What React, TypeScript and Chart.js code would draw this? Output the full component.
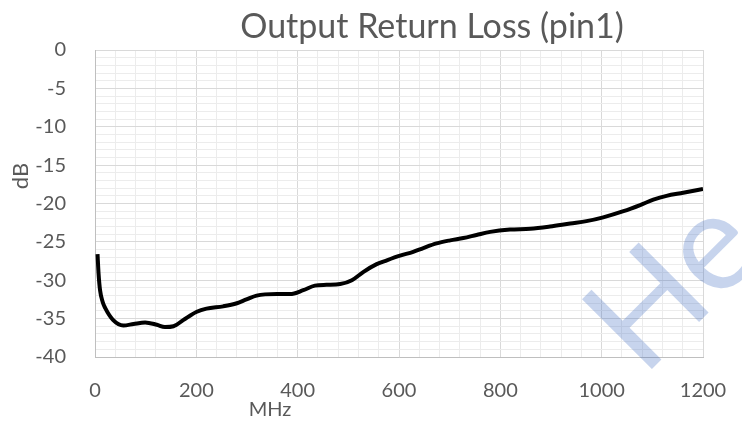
import React, { useEffect, useRef } from "react";
import { Chart, registerables } from "chart.js";

Chart.register(...registerables);

const TITLE = "Output Return Loss (pin1)";
const X_LABEL = "MHz";
const Y_LABEL = "dB";
const WATERMARK = "He";

const freqMHz = [5, 7, 10, 15, 20, 36, 56, 76, 99, 122, 138, 155, 174, 201, 220, 253, 280, 299, 319, 359, 385, 411, 434, 457, 484, 507, 530, 556, 576, 602, 628, 648, 674, 701, 727, 753, 780, 819, 859, 898, 938, 970, 1003, 1043, 1076, 1102, 1128, 1161, 1200];
const returnLossDb = [-26.6, -29.1, -31.3, -32.8, -33.6, -35.2, -35.9, -35.7, -35.5, -35.8, -36.1, -36.0, -35.2, -34.1, -33.7, -33.4, -33.0, -32.5, -32.0, -31.8, -31.8, -31.3, -30.7, -30.6, -30.5, -30.0, -28.9, -27.9, -27.4, -26.8, -26.3, -25.8, -25.2, -24.8, -24.5, -24.1, -23.7, -23.4, -23.3, -23.0, -22.6, -22.3, -21.8, -21.0, -20.2, -19.5, -19.0, -18.6, -18.1];

const X_MIN = 0, X_MAX = 1200, X_MAJOR = 200, X_MINOR = 40;
const Y_MIN = -40, Y_MAX = 0, Y_MAJOR = 5, Y_MINOR = 1;

const FONT = "Lato, 'Open Sans', sans-serif";
const TEXT_COLOR = "#595959";

const textPlugin = {
  id: "extraText",
  afterDraw(chart: any) {
    const ctx = chart.ctx as CanvasRenderingContext2D;
    ctx.save();
    ctx.fillStyle = TEXT_COLOR;
    ctx.textAlign = "center";
    ctx.textBaseline = "alphabetic";
    ctx.font = `34px ${FONT}`;
    ctx.fillText(TITLE, 432, 38);
    ctx.font = `20px ${FONT}`;
    ctx.fillText(X_LABEL, 270, 416);
    ctx.save();
    ctx.translate(28, 176);
    ctx.rotate(-Math.PI / 2);
    ctx.font = `22px ${FONT}`;
    ctx.fillText(Y_LABEL, 0, 0);
    ctx.restore();
    // watermark
    ctx.save();
    ctx.translate(643, 378);
    ctx.rotate(-Math.PI / 4);
    ctx.textAlign = "left";
    ctx.fillStyle = "rgba(68,114,196,0.3)";
    ctx.font = `138px ${FONT}`;
    ctx.fillText(WATERMARK, 0, 0);
    ctx.restore();
    ctx.restore();
  },
};

export default function App() {
  const ref = useRef<HTMLCanvasElement>(null);
  useEffect(() => {
    if (!ref.current) return;
    const points = freqMHz.map((f, i) => ({ x: f, y: returnLossDb[i] }));
    const chart = new Chart(ref.current, {
      type: "line",
      data: {
        datasets: [
          {
            data: points,
            borderColor: "#000000",
            borderWidth: 4,
            pointRadius: 0,
            fill: false,
            cubicInterpolationMode: "monotone",
          },
        ],
      },
      options: {
        responsive: false,
        animation: false,
        layout: { padding: { top: 50, right: 39, left: 0, bottom: 0 } },
        plugins: { legend: { display: false }, title: { display: false }, tooltip: { enabled: false } },
        scales: {
          x: {
            type: "linear",
            min: X_MIN,
            max: X_MAX,
            afterFit: (s: any) => {
              s.height = 64;
              s.paddingLeft = 0;
              s.paddingRight = 0;
            },
            border: { color: "#bfbfbf", width: 1 },
            grid: {
              drawTicks: false,
              color: (c: any) => (c.tick && c.tick.value % X_MAJOR === 0 ? "#d9d9d9" : "#ececec"),
            },
            ticks: {
              stepSize: X_MINOR,
              autoSkip: false,
              maxRotation: 0,
              minRotation: 0,
              padding: 22,
              color: TEXT_COLOR,
              font: { family: FONT, size: 20 },
              callback: (v: any) => (Number(v) % X_MAJOR === 0 ? String(v) : ""),
            },
          },
          y: {
            type: "linear",
            min: Y_MIN,
            max: Y_MAX,
            afterFit: (s: any) => {
              s.width = 95;
              s.paddingTop = 0;
              s.paddingBottom = 0;
            },
            border: { color: "#bfbfbf", width: 1 },
            grid: {
              drawTicks: false,
              color: (c: any) => (c.tick && c.tick.value % Y_MAJOR === 0 ? "#d9d9d9" : "#ececec"),
            },
            ticks: {
              stepSize: Y_MINOR,
              autoSkip: false,
              padding: 29,
              color: TEXT_COLOR,
              font: { family: FONT, size: 20 },
              callback: (v: any) => (Number(v) % Y_MAJOR === 0 ? String(v) : ""),
            },
          },
        },
      },
      plugins: [textPlugin],
    } as any);
    return () => chart.destroy();
  }, []);
  return (
    <div style={{ position: "absolute", left: 0, top: 0, width: 742, height: 421, background: "#ffffff" }}>
      <canvas ref={ref} width={742} height={421} style={{ display: "block" }} />
    </div>
  );
}
